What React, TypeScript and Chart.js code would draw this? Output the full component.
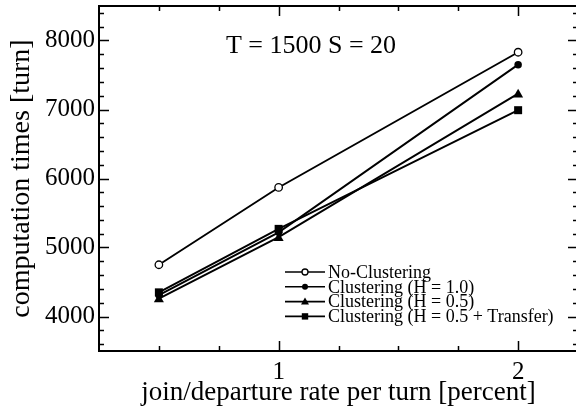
import React, { useEffect, useRef } from "react";
import { Chart, registerables } from "chart.js";

Chart.register(...registerables);

// ---- data ----
const rates = [0.5, 1, 2];
const noClustering = [4750, 5870, 7830];
const clusteringH10 = [4310, 5220, 7650];
const clusteringH05 = [4260, 5150, 7230];
const clusteringH05Transfer = [4350, 5270, 6990];
const seriesLabels = [
  "No-Clustering",
  "Clustering (H = 1.0)",
  "Clustering (H = 0.5)",
  "Clustering (H = 0.5 + Transfer)",
];
const xLabelTicks = [1, 2];
const yLabelTicks = [4000, 5000, 6000, 7000, 8000];
const xTickStep = 0.25;
const yTickStep = 200;
const annotationText = "T = 1500 S = 20";
const xTitle = "join/departure rate per turn [percent]";
const yTitle = "computation times [turn]";

const FONT = "'Liberation Serif', 'Times New Roman', serif";

type Marker = "openCircle" | "circle" | "triangle" | "rect";
const markers: Marker[] = ["openCircle", "circle", "triangle", "rect"];

function stepTicks(min: number, max: number, step: number) {
  const out: { value: number }[] = [];
  const n = Math.round((max - min) / step);
  for (let i = 0; i <= n; i++) out.push({ value: Math.round((min + i * step) * 1000) / 1000 });
  return out;
}

function drawMarker(ctx: CanvasRenderingContext2D, kind: Marker, x: number, y: number, s: number) {
  ctx.save();
  ctx.lineWidth = 1.3;
  ctx.strokeStyle = "#000";
  ctx.fillStyle = "#000";
  ctx.beginPath();
  if (kind === "openCircle") {
    ctx.fillStyle = "#fff";
    ctx.arc(x, y, s * 0.75, 0, Math.PI * 2);
    ctx.fill();
    ctx.stroke();
  } else if (kind === "circle") {
    ctx.arc(x, y, s * 0.75, 0, Math.PI * 2);
    ctx.fill();
  } else if (kind === "triangle") {
    ctx.moveTo(x, y - s);
    ctx.lineTo(x + s, y + s * 0.75);
    ctx.lineTo(x - s, y + s * 0.75);
    ctx.closePath();
    ctx.fill();
  } else {
    ctx.rect(x - s * 0.8, y - s * 0.8, s * 1.6, s * 1.6);
    ctx.fill();
  }
  ctx.restore();
}

const framePlugin = {
  id: "framePlugin",
  afterDraw(chart: any) {
    const { ctx, chartArea } = chart;
    const { left, right, top, bottom } = chartArea;
    const xs = chart.scales.x;
    const ys = chart.scales.y;
    ctx.save();
    ctx.strokeStyle = "#000";
    ctx.lineWidth = 2;
    ctx.strokeRect(left, top, right - left, bottom - top);
    ctx.lineWidth = 1.5;
    ctx.beginPath();
    ys.ticks.forEach((t: any) => {
      const v = Math.round(t.value);
      if (v <= ys.min || v >= ys.max) return;
      const major = v % 1000 === 0;
      const len = major ? 10 : 5;
      const py = Math.round(ys.getPixelForValue(v)) + 0.5;
      ctx.moveTo(left, py);
      ctx.lineTo(left + len, py);
      ctx.moveTo(right, py);
      ctx.lineTo(right - len, py);
    });
    xs.ticks.forEach((t: any) => {
      const v = t.value;
      if (v <= xs.min + 1e-9 || v >= xs.max - 1e-9) return;
      const major = Math.abs(v - Math.round(v)) < 1e-9;
      const len = major ? 10 : 5;
      const px = Math.round(xs.getPixelForValue(v)) + 0.5;
      ctx.moveTo(px, bottom);
      ctx.lineTo(px, bottom - len);
      ctx.moveTo(px, top);
      ctx.lineTo(px, top + len);
    });
    ctx.stroke();

    // annotation
    ctx.fillStyle = "#000";
    ctx.font = `26px ${FONT}`;
    ctx.textAlign = "center";
    ctx.textBaseline = "middle";
    ctx.fillText(annotationText, left + 212, top + 40);

    // legend
    const lx0 = left + 186;
    const lx1 = left + 226;
    const ty0 = top + 266;
    const dy = 14.8;
    ctx.font = `18px ${FONT}`;
    ctx.textAlign = "left";
    chart.data.datasets.forEach((ds: any, i: number) => {
      const y = ty0 + i * dy;
      ctx.lineWidth = 1.6;
      ctx.strokeStyle = "#000";
      ctx.beginPath();
      ctx.moveTo(lx0, y);
      ctx.lineTo(lx1, y);
      ctx.stroke();
      drawMarker(ctx, markers[i], (lx0 + lx1) / 2, y, 4);
      ctx.fillStyle = "#000";
      ctx.fillText(ds.label, lx1 + 3, y + 1);
    });
    ctx.restore();
  },
};

const markerPlugin = {
  id: "markerPlugin",
  afterDatasetsDraw(chart: any) {
    const { ctx } = chart;
    chart.data.datasets.forEach((ds: any, i: number) => {
      const meta = chart.getDatasetMeta(i);
      meta.data.forEach((pt: any) => {
        drawMarker(ctx, markers[i], pt.x, pt.y, 5);
      });
    });
  },
};

export default function App() {
  const ref = useRef<HTMLCanvasElement | null>(null);

  useEffect(() => {
    if (!ref.current) return;
    const series = [noClustering, clusteringH10, clusteringH05, clusteringH05Transfer];
    const chart = new Chart(ref.current, {
      type: "line",
      data: {
        datasets: series.map((vals, i) => ({
          label: seriesLabels[i],
          data: rates.map((r, j) => ({ x: r, y: vals[j] })),
          borderColor: "#000",
          borderWidth: 1.9,
          pointRadius: 0,
          fill: false,
          tension: 0,
        })),
      },
      options: {
        responsive: false,
        animation: false,
        devicePixelRatio: 1,
        layout: { padding: { top: 6, right: 12, left: 0, bottom: 0 } },
        plugins: {
          legend: { display: false },
          tooltip: { enabled: false },
        },
        scales: {
          x: {
            type: "linear",
            min: 0.25,
            max: 2.25,
            grid: { display: false, drawTicks: false },
            border: { display: false },
            afterBuildTicks: (s: any) => {
              s.ticks = stepTicks(0.25, 2.25, xTickStep);
            },
            ticks: {
              autoSkip: false,
              maxRotation: 0,
              padding: 6,
              color: "#000",
              font: { family: FONT, size: 25 },
              callback: (v: any) => (xLabelTicks.includes(Number(v)) ? String(v) : ""),
            },
            title: {
              display: true,
              text: xTitle,
              color: "#000",
              font: { family: FONT, size: 27 },
              padding: { top: 0, bottom: 9 },
            },
            afterFit: (s: any) => {
              s.height = 67;
              s.paddingLeft = 0;
              s.paddingRight = 0;
            },
          },
          y: {
            type: "linear",
            min: 3500,
            max: 8500,
            grid: { display: false, drawTicks: false },
            border: { display: false },
            afterBuildTicks: (s: any) => {
              s.ticks = stepTicks(3500, 8500, yTickStep / 2).filter((t) => t.value % yTickStep === 0);
            },
            ticks: {
              autoSkip: false,
              padding: 4,
              color: "#000",
              font: { family: FONT, size: 25 },
              callback: (v: any) => (yLabelTicks.includes(Math.round(Number(v))) ? String(Math.round(Number(v))) : ""),
            },
            title: {
              display: true,
              text: yTitle,
              color: "#000",
              font: { family: FONT, size: 28 },
              padding: { top: 5, bottom: 0 },
            },
            afterFit: (s: any) => {
              s.width = 99;
              s.paddingTop = 0;
              s.paddingBottom = 0;
            },
          },
        },
      },
      plugins: [markerPlugin, framePlugin],
    });
    return () => chart.destroy();
  }, []);

  return (
    <div
      style={{
        position: "fixed",
        left: 0,
        top: 0,
        width: 576,
        height: 418,
        overflow: "hidden",
        background: "#fff",
      }}
    >
      <canvas ref={ref} width={590} height={418} style={{ display: "block", width: 590, height: 418 }} />
    </div>
  );
}
